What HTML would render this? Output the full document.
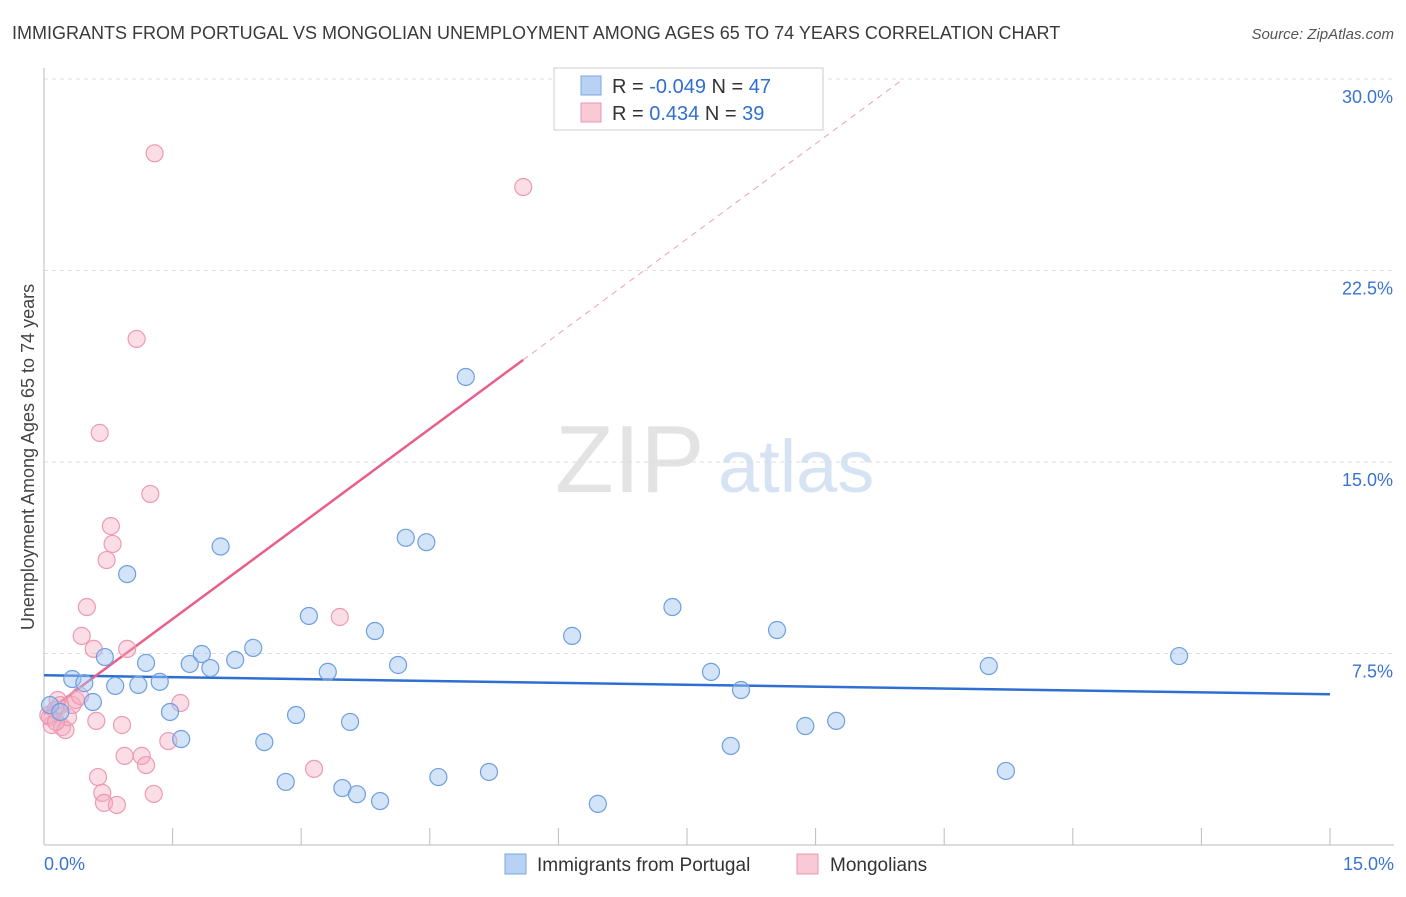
<!DOCTYPE html>
<html><head><meta charset="utf-8"><style>
body{margin:0;background:#fff;font-family:"Liberation Sans",sans-serif}
svg text{font-family:"Liberation Sans",sans-serif}
</style></head><body>
<svg id="chart" width="1406" height="892" xmlns="http://www.w3.org/2000/svg">
<text x="12" y="39" font-size="18" fill="#3a3a3a">IMMIGRANTS FROM PORTUGAL VS MONGOLIAN UNEMPLOYMENT AMONG AGES 65 TO 74 YEARS CORRELATION CHART</text>
<text x="1394" y="39" font-size="15" fill="#555" text-anchor="end" font-style="italic">Source: ZipAtlas.com</text>
<text transform="translate(34,457) rotate(-90)" font-size="18" fill="#444" text-anchor="middle">Unemployment Among Ages 65 to 74 years</text>
<g><text x="555" y="492" font-size="96" fill="#e3e3e3" font-family="Liberation Serif,serif">ZIP</text><text x="718" y="492" font-size="74" fill="#d6e3f3">atlas</text></g>
<g id="grid"></g><g id="axes"></g><g id="lines"></g><g id="pts"></g>
<g>
<rect x="554" y="68" width="269" height="62" fill="#fff" stroke="#ccc"/>
<rect x="581" y="76" width="20" height="19" fill="#b8d2f3" stroke="#7aa6e0"/>
<rect x="581" y="103" width="20" height="19" fill="#f9c9d6" stroke="#e898b0"/>
<text x="612" y="93" font-size="20" fill="#333">R = <tspan fill="#2f6fd1">-0.049</tspan>   N = <tspan fill="#2f6fd1">47</tspan></text>
<text x="612" y="120" font-size="20" fill="#333">R =  <tspan fill="#2f6fd1"> 0.434</tspan>   N = <tspan fill="#2f6fd1">39</tspan></text>
</g>
<g>
<rect x="505" y="854" width="21" height="20" fill="#b8d2f3" stroke="#7aa6e0"/>
<text x="537" y="871" font-size="19" fill="#333">Immigrants from Portugal</text>
<rect x="797" y="854" width="21" height="20" fill="#f9c9d6" stroke="#e898b0"/>
<text x="830" y="871" font-size="19" fill="#333">Mongolians</text>
</g>
</svg>
<script>
const yTicks=[7.5,15,22.5,30];
const yTickLabels=["7.5%","15.0%","22.5%","30.0%"];
const xTicks=[0,1.5,3,4.5,6,7.5,9,10.5,12,13.5,15];
const blueX=[0.07,0.19,0.33,0.47,0.57,0.71,0.83,0.97,1.10,1.19,1.35,1.47,1.60,1.70,1.84,1.94,2.06,2.23,2.44,2.57,2.82,2.94,3.09,3.31,3.48,3.57,3.65,3.86,3.92,4.13,4.22,4.46,4.60,4.92,5.19,6.16,6.46,7.33,7.78,8.01,8.13,8.55,8.88,9.24,11.02,11.22,13.24];
const blueY=[5.48,5.21,6.50,6.34,5.60,7.36,6.23,10.61,6.27,7.13,6.39,5.21,4.15,7.09,7.48,6.93,11.69,7.25,7.72,4.03,2.47,5.09,8.97,6.78,2.23,4.82,1.99,8.38,1.72,7.05,12.03,11.86,2.66,18.33,2.86,8.19,1.61,9.32,6.78,3.88,6.07,8.42,4.66,4.86,7.01,2.90,7.40];
const pinkX=[0.07,0.09,0.13,0.16,0.19,0.21,0.25,0.28,0.33,0.37,0.42,0.44,0.50,0.58,0.61,0.63,0.65,0.68,0.70,0.73,0.78,0.80,0.85,0.91,0.94,0.97,1.08,1.14,1.19,1.24,1.28,1.29,1.45,1.59,3.15,3.45,5.59,0.05,0.14];
const pinkY=[5.01,4.70,5.29,5.68,5.48,4.62,4.50,5.01,5.48,5.68,5.84,8.19,9.32,7.68,4.86,2.66,16.14,2.04,1.65,11.16,12.49,11.79,1.57,4.70,3.49,7.68,19.82,3.49,3.13,13.75,2.00,27.09,4.07,5.56,2.98,8.93,25.77,5.09,4.82];
const X0=44,X1=1330,Y0=845,Y30=79;
const sx=v=>X0+(X1-X0)*v/15, sy=v=>Y0-(Y0-Y30)*v/30;
const NS="http://www.w3.org/2000/svg";
function mk(tag,attrs,parent){const e=document.createElementNS(NS,tag);for(const k in attrs)e.setAttribute(k,attrs[k]);parent.appendChild(e);return e;}
const grid=document.getElementById('grid'),axes=document.getElementById('axes'),lines=document.getElementById('lines'),pts=document.getElementById('pts');
yTicks.forEach((t,i)=>{
 const l=mk('line',{x1:X0,x2:1394,y1:sy(t),y2:sy(t),stroke:'#ddd','stroke-dasharray':'4,4'},grid);
 
 
 const tx=mk('text',{x:1393,y:sy(t)+24,'font-size':18,fill:'#3a74d0','text-anchor':'end'},axes);
 tx.textContent=yTickLabels[i];
 
 
});
const ax=mk('line',{x1:X0,x2:X0,y1:68,y2:Y0,stroke:'#bbb'},axes);


const bx=mk('line',{x1:X0,x2:1394,y1:Y0,y2:Y0,stroke:'#bbb'},axes);


xTicks.forEach(t=>{
 const l=mk('line',{x1:sx(t),x2:sx(t),y1:Y0,y2:828,stroke:'#bbb'},axes);
 
 
});
const xl0=mk('text',{x:44,y:870,'font-size':18,fill:'#3a74d0'},axes);xl0.textContent='0.0%';


const xl1=mk('text',{x:1394,y:870,'font-size':18,fill:'#3a74d0','text-anchor':'end'},axes);xl1.textContent='15.0%';


function fit(xs,ys){const n=xs.length,mx=xs.reduce((a,b)=>a+b)/n,my=ys.reduce((a,b)=>a+b)/n;let sxy=0,sxx=0;for(let i=0;i<n;i++){sxy+=(xs[i]-mx)*(ys[i]-my);sxx+=(xs[i]-mx)**2;}const b=sxy/sxx;return[my-b*mx,b];}
const [ba,bb]=fit(blueX,blueY);
const bl=mk('line',{x1:sx(0),y1:sy(ba),x2:sx(15),y2:sy(ba+bb*15),stroke:'#2f6fd1','stroke-width':2.5},lines);


const [pa,pb]=fit(pinkX,pinkY);
const xe=Math.max(...pinkX.filter(v=>v<6));
const pl=mk('line',{x1:sx(0),y1:sy(pa),x2:sx(xe),y2:sy(pa+pb*xe),stroke:'#e8608a','stroke-width':2.5},lines);


const xd=(30-pa)/pb;
const pd=mk('line',{x1:sx(xe),y1:sy(pa+pb*xe),x2:sx(Math.min(xd,15)),y2:sy(pa+pb*Math.min(xd,15)),stroke:'#eaa0b8','stroke-width':1,'stroke-dasharray':'6,5'},lines);


pinkX.forEach((v,i)=>{
 const c=mk('circle',{cx:sx(v),cy:sy(pinkY[i]),r:8.5,fill:'rgba(245,170,192,0.4)',stroke:'#ec9ab3','stroke-width':1.2},pts);
 
 
});
blueX.forEach((v,i)=>{
 const c=mk('circle',{cx:sx(v),cy:sy(blueY[i]),r:8.5,fill:'rgba(160,195,240,0.45)',stroke:'#6d9fe0','stroke-width':1.2},pts);
 
 
});
</script>
</body></html>
